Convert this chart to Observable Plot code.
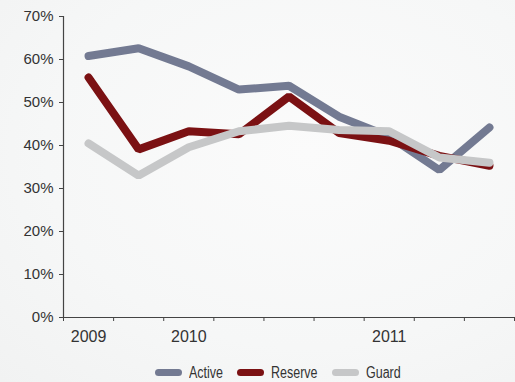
<!DOCTYPE html>
<html>
<head>
<meta charset="utf-8">
<script src="https://cdn.jsdelivr.net/npm/d3@7"></script>
<script src="https://cdn.jsdelivr.net/npm/@observablehq/plot@0.6"></script>
<style>
  html, body { margin: 0; padding: 0; }
  body {
    width: 515px; height: 382px; overflow: hidden; position: relative;
    background: radial-gradient(ellipse at 60% 40%, #fbfbfb 0%, #f6f7f7 60%, #f1f2f2 100%);
    font-family: "Liberation Sans", Arial, sans-serif;
  }
  #chart { position: absolute; left: 0; top: 0; }
  #legend {
    position: absolute; left: 0; top: 362px; width: 515px; height: 20px;
    font-family: "Liberation Sans Narrow", "Arial Narrow", "Liberation Sans", sans-serif;
    font-size: 16px; color: #333;
  }
  .sw { position: absolute; top: 7px; width: 27px; height: 7px; border-radius: 4px; }
  .lbl { position: absolute; top: 1px; line-height: 20px; white-space: nowrap;
         transform: scaleX(0.78); transform-origin: left center; }
</style>
</head>
<body>
<div id="chart"></div>
<div id="legend"></div>
<script>
const periods = ["2009", "", "2010", "", "", "", "2011", "", ""];
const labeledPeriods = [0, 2, 6];
const seriesNames = ["Active", "Reserve", "Guard"];
const seriesColors = ["#737a92", "#7b1113", "#c6c7c8"];
const active  = [60.8, 62.6, 58.4, 53.0, 53.9, 46.7, 42.1, 34.3, 44.2];
const reserve = [55.8, 39.1, 43.3, 42.6, 51.4, 42.9, 41.1, 37.6, 35.3];
const guard   = [40.5, 33.0, 39.6, 43.3, 44.6, 43.6, 43.3, 37.2, 36.0];
const yTicks = [0, 10, 20, 30, 40, 50, 60, 70];

const valuesBySeries = [active, reserve, guard];
const data = [];
seriesNames.forEach((s, k) => {
  valuesBySeries[k].forEach((v, i) => data.push({series: s, i, value: v}));
});
const boundaries = d3.range(periods.length + 1).map(i => i - 0.5);

const plot = Plot.plot({
  width: 515,
  height: 352,
  marginTop: 16,
  marginBottom: 35,
  marginLeft: 63,
  marginRight: 1,
  style: {background: "transparent", fontFamily: "Liberation Sans, Arial, sans-serif", color: "#333"},
  x: {type: "linear", domain: [-0.5, periods.length - 0.5]},
  y: {domain: [0, 70]},
  color: {domain: seriesNames, range: seriesColors},
  marks: [
    Plot.axisY({ticks: yTicks, tickSize: 4, tickPadding: 6, tickFormat: d => d + "%", fontSize: 15, stroke: "#444", fill: "#333", label: null}),
    Plot.axisX({ticks: boundaries, tickSize: 4, tickFormat: () => "", stroke: "#444", label: null}),
    Plot.axisX({ticks: labeledPeriods, tickSize: 0, tickPadding: 13, tickFormat: i => periods[i], fontSize: 16, fill: "#333", label: null}),
    Plot.ruleX([-0.5], {y1: 0, y2: 70, stroke: "#444", strokeWidth: 1.2}),
    Plot.ruleY([0], {x1: -0.5, x2: periods.length - 0.5, stroke: "#444", strokeWidth: 1.2}),
    Plot.line(data, {x: "i", y: "value", z: "series", stroke: "series", strokeWidth: 8, strokeLinecap: "round", strokeLinejoin: "miter"})
  ]
});
document.getElementById("chart").appendChild(plot);

const legend = document.getElementById("legend");
const swatchLeft = [155, 237, 332];
seriesNames.forEach((s, k) => {
  const sw = document.createElement("div");
  sw.className = "sw";
  sw.style.left = swatchLeft[k] + "px";
  sw.style.background = seriesColors[k];
  const t = document.createElement("span");
  t.className = "lbl";
  t.style.left = (swatchLeft[k] + 34) + "px";
  t.textContent = s;
  legend.appendChild(sw); legend.appendChild(t);
});
</script>
</body>
</html>
